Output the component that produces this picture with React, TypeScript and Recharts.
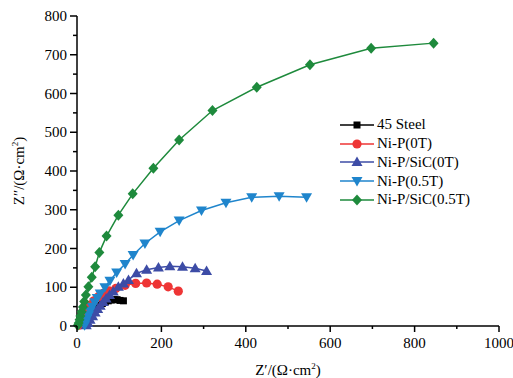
import React from 'react';
import { ScatterChart, Scatter, XAxis, YAxis, Legend } from 'recharts';

const steelRe = [6, 10, 15, 20, 26, 32, 39, 46, 53, 60, 67, 74, 81, 88, 95, 102, 110];
const steelIm = [2, 8, 15, 22, 29, 36, 42, 48, 53, 58, 62, 65, 67, 68, 68, 66, 65];

const nipRe = [5, 9, 14, 19, 25, 32, 40, 50, 62, 76, 92, 114, 139, 165, 190, 216, 240];
const nipIm = [2, 10, 20, 31, 42, 54, 65, 75, 84, 91, 97, 105, 110, 111, 108, 101, 90];

const nipSicRe = [22, 26, 31, 37, 43, 49, 55, 62, 69, 77, 86, 98, 110, 122, 141, 165, 193, 220, 250, 280, 307];
const nipSicIm = [2, 8, 16, 25, 35, 44, 52, 62, 71, 80, 89, 101, 110, 119, 136, 145, 151, 154, 153, 149, 142];

const nipMagRe = [18, 20, 23, 27, 31, 36, 42, 48, 55, 66, 78, 94, 114, 133, 161, 197, 242, 295, 353, 414, 479, 544];
const nipMagIm = [2, 9, 18, 28, 39, 50, 61, 72, 84, 100, 117, 138, 160, 183, 213, 243, 272, 298, 318, 332, 335, 332];

const nipSicMagRe = [2, 4, 6, 8, 11, 14, 17, 21, 27, 35, 43, 53, 70, 98, 132, 181, 242, 321, 426, 552, 697, 845];
const nipSicMagIm = [2, 8, 16, 26, 37, 49, 63, 80, 101, 126, 153, 190, 232, 286, 341, 407, 480, 556, 616, 674, 717, 730];

const xTicks = [0, 100, 200, 300, 400, 500, 600, 700, 800, 900, 1000];
const yTicks = [0, 50, 100, 150, 200, 250, 300, 350, 400, 450, 500, 550, 600, 650, 700, 750, 800];

const FONT = '"Liberation Serif", "Times New Roman", serif';
const FS = 15;

type Kind = 'square' | 'circle' | 'up' | 'down' | 'diamond';

const toPoints = (xs: number[], ys: number[]) => xs.map((x, i) => ({ x, y: ys[i] }));

const series: { name: string; color: string; kind: Kind; data: { x: number; y: number }[] }[] = [
  { name: '45 Steel', color: '#000000', kind: 'square', data: toPoints(steelRe, steelIm) },
  { name: 'Ni-P(0T)', color: '#ee3535', kind: 'circle', data: toPoints(nipRe, nipIm) },
  { name: 'Ni-P/SiC(0T)', color: '#3d4ca6', kind: 'up', data: toPoints(nipSicRe, nipSicIm) },
  { name: 'Ni-P(0.5T)', color: '#1f85cc', kind: 'down', data: toPoints(nipMagRe, nipMagIm) },
  { name: 'Ni-P/SiC(0.5T)', color: '#1e8a3c', kind: 'diamond', data: toPoints(nipSicMagRe, nipSicMagIm) },
];

const Marker = ({ kind, cx, cy, color }: { kind: Kind; cx: number; cy: number; color: string }) => {
  switch (kind) {
    case 'square':
      return <rect x={cx - 3.5} y={cy - 3.5} width={7} height={7} fill={color} />;
    case 'circle':
      return <circle cx={cx} cy={cy} r={4.6} fill={color} />;
    case 'up':
      return <polygon points={`${cx},${cy - 5.5} ${cx + 5.5},${cy + 4} ${cx - 5.5},${cy + 4}`} fill={color} />;
    case 'down':
      return <polygon points={`${cx - 5.5},${cy - 4} ${cx + 5.5},${cy - 4} ${cx},${cy + 5.5}`} fill={color} />;
    default:
      return <polygon points={`${cx},${cy - 5.5} ${cx + 5},${cy} ${cx},${cy + 5.5} ${cx - 5},${cy}`} fill={color} />;
  }
};

const X_TICK = 6;
const X_MARGIN = 4;
const Y_TICK = 7;
const Y_MARGIN = 3;

const XTick = (props: any) => {
  const { x, y, payload } = props;
  const axisY = y - X_TICK - X_MARGIN;
  const major = payload.value % 200 === 0;
  return (
    <g>
      <line x1={x} x2={x} y1={axisY} y2={axisY + (major ? 6 : 3)} stroke="#000" strokeWidth={1.5} />
      {major && (
        <text x={x} y={axisY + 22} textAnchor="middle" fontFamily={FONT} fontSize={FS} fill="#000">
          {payload.value}
        </text>
      )}
    </g>
  );
};

const YTick = (props: any) => {
  const { x, y, payload } = props;
  const axisX = x + Y_TICK + Y_MARGIN;
  const major = payload.value % 100 === 0;
  return (
    <g>
      <line x1={axisX} x2={axisX - (major ? 7 : 4)} y1={y} y2={y} stroke="#000" strokeWidth={1.5} />
      {major && (
        <text x={axisX - 10} y={y + 5} textAnchor="end" fontFamily={FONT} fontSize={FS} fill="#000">
          {payload.value}
        </text>
      )}
    </g>
  );
};

const XTitle = (props: any) => {
  const vb = props.viewBox;
  return (
    <text x={vb.x + vb.width / 2} y={vb.y + 49} textAnchor="middle" fontFamily={FONT} fontSize={FS} fill="#000">
      Z′/(Ω·cm<tspan dy={-6} fontSize={9}>2</tspan>
      <tspan dy={6}>)</tspan>
    </text>
  );
};

const YTitle = (props: any) => {
  const vb = props.viewBox;
  const cx = vb.x + 24;
  const cy = vb.y + vb.height / 2;
  return (
    <text x={cx} y={cy} textAnchor="middle" transform={`rotate(-90 ${cx} ${cy})`} fontFamily={FONT} fontSize={FS} fill="#000">
      Z″/(Ω·cm<tspan dy={-6} fontSize={9}>2</tspan>
      <tspan dy={6}>)</tspan>
    </text>
  );
};

const LegendBox = () => (
  <div style={{ fontFamily: FONT, fontSize: FS, color: '#000' }}>
    {series.map((s) => (
      <div key={s.name} style={{ display: 'flex', alignItems: 'center', height: 18.7, whiteSpace: 'nowrap' }}>
        <svg width={34} height={14} style={{ display: 'block' }}>
          <line x1={0} x2={34} y1={7} y2={7} stroke={s.color} strokeWidth={1.5} />
          <Marker kind={s.kind} cx={17} cy={7} color={s.color} />
        </svg>
        <span style={{ marginLeft: 3 }}>{s.name}</span>
      </div>
    ))}
  </div>
);

export default function App() {
  return (
    <div style={{ width: 513, height: 378, background: '#fff' }}>
      <style>{'body{margin:0}'}</style>
      <ScatterChart width={513} height={378} margin={{ top: 16, right: 14, bottom: 0, left: 0 }}>
        <XAxis
          xAxisId="main"
          dataKey="x"
          type="number"
          domain={[0, 1000]}
          ticks={xTicks}
          interval={0}
          height={52}
          tickSize={X_TICK}
          tickMargin={X_MARGIN}
          tickLine={false}
          tick={<XTick />}
          axisLine={{ stroke: '#000', strokeWidth: 1.5 }}
          label={<XTitle />}
        />
        <XAxis xAxisId="top" orientation="top" type="number" domain={[0, 1000]} height={0} tick={false} tickLine={false} axisLine={{ stroke: '#000', strokeWidth: 1.5 }} />
        <YAxis
          yAxisId="main"
          dataKey="y"
          type="number"
          domain={[0, 800]}
          ticks={yTicks}
          interval={0}
          width={77}
          tickSize={Y_TICK}
          tickMargin={Y_MARGIN}
          tickLine={false}
          tick={<YTick />}
          axisLine={{ stroke: '#000', strokeWidth: 1.5 }}
          label={<YTitle />}
        />
        <YAxis yAxisId="right" orientation="right" type="number" domain={[0, 800]} width={0} tick={false} tickLine={false} axisLine={{ stroke: '#000', strokeWidth: 1.5 }} />
        {series.map((s) => (
          <Scatter
            key={s.name}
            name={s.name}
            xAxisId="main"
            yAxisId="main"
            data={s.data}
            fill={s.color}
            line={{ stroke: s.color, strokeWidth: 1.5 }}
            shape={(p: any) => <Marker kind={s.kind} cx={p.cx} cy={p.cy} color={s.color} />}
            isAnimationActive={false}
          />
        ))}
        <Legend
          layout="vertical"
          align="center"
          verticalAlign="middle"
          content={<LegendBox />}
          wrapperStyle={{ position: 'absolute', left: 340, top: 115.6, width: 'auto' }}
        />
      </ScatterChart>
    </div>
  );
}
